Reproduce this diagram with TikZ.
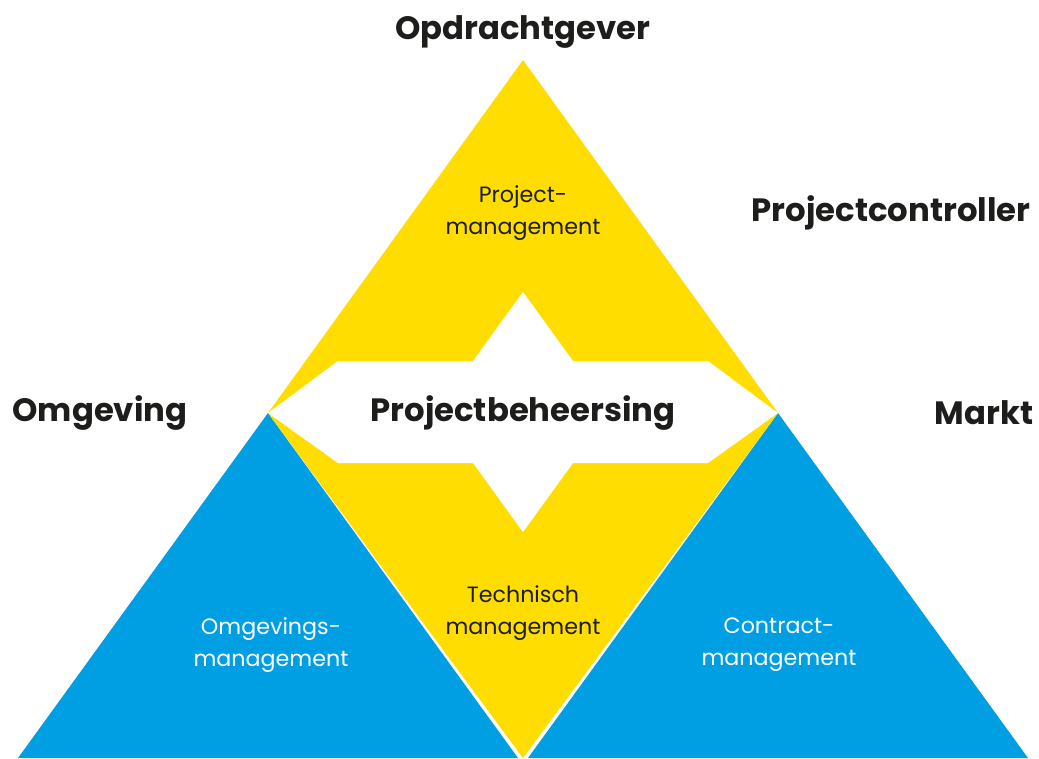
\documentclass[tikz,border=0pt]{standalone}
\usepackage{fontspec}
\setmainfont{Poppins}
\definecolor{ygold}{HTML}{FFDD00}
\definecolor{bblue}{HTML}{009FE3}
\definecolor{ink}{HTML}{1D1D1B}
\begin{document}
\begin{tikzpicture}[x=1pt,y=-1pt,
  bigl/.style={font=\fontsize{32.3}{38}\selectfont\bfseries, text=ink, inner sep=0pt},
  smalll/.style={font=\fontsize{22.2}{32}\selectfont, align=center, inner sep=0pt},
  ]
\useasboundingbox (0,0) rectangle (1039,758);
% blue triangles
\fill[bblue] (268,413) -- (18,758) -- (518,758) -- cycle;
\fill[bblue] (778,413) -- (528,758) -- (1028,758) -- cycle;
% yellow diamond
\fill[ygold] (523,60) -- (778,413) -- (523,758) -- (268,413) -- cycle;
% white double arrow
\fill[white] (268,413) -- (338,361) -- (473,361) -- (523,292) -- (573,361) -- (708,361)
  -- (778,413) -- (708,463) -- (573,463) -- (523,532) -- (473,463) -- (338,463) -- cycle;
% labels
\node[bigl] (opdr) at (523,32) {Opdrachtgever};
\node[bigl] (pc) at (891,213) {Projectcontroller};
\node[bigl] (omg) at (100,413) {Omgeving};
\node[bigl] (markt) at (984,413) {Markt};
\node[bigl] (pb) at (523,413) {Projectbeheersing};
\node[smalll, text=ink] (pm) at (523,213) {Project-\\management};
\node[smalll, text=ink] (tm) at (523,613) {Technisch\\management};
\node[smalll, text=white] (om) at (271,645) {Omgevings-\\management};
\node[smalll, text=white] (cm) at (779,645) {Contract-\\management};
\end{tikzpicture}
\end{document}
